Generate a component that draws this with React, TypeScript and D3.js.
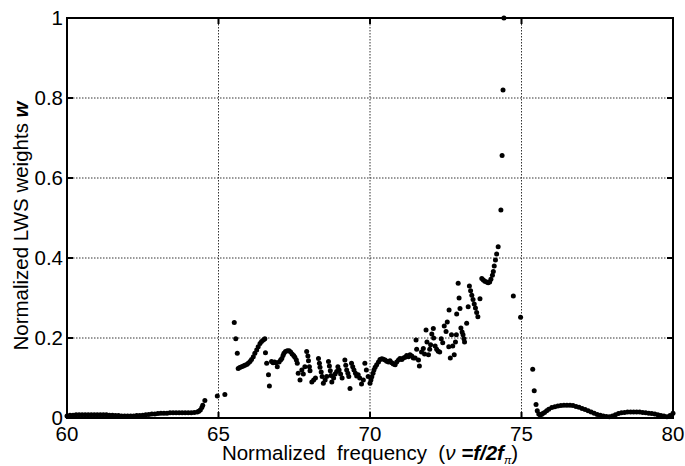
import React from "react";
import * as d3 from "d3";

// ---- data ----
const lowFreq = [60.0,60.1,60.2,60.3,60.4,60.5,60.6,60.7,60.8,60.9,61.0,61.1,61.2,61.3,61.4,61.5,61.6,61.7,61.8,61.9,62.0,62.1,62.2,62.3,62.4,62.5,62.6,62.7,62.8,62.9,63.0,63.1,63.2,63.3,63.4,63.5,63.6,63.7,63.8,63.9,64.0,64.1,64.2,64.3,64.35,64.4,64.45,64.48,64.55,64.96,65.21];
const lowW = [0.005,0.007,0.007,0.008,0.008,0.008,0.008,0.008,0.008,0.008,0.008,0.008,0.008,0.008,0.007,0.007,0.006,0.006,0.005,0.005,0.005,0.005,0.005,0.006,0.006,0.007,0.008,0.009,0.010,0.010,0.011,0.012,0.012,0.012,0.013,0.013,0.013,0.013,0.013,0.013,0.013,0.013,0.014,0.015,0.017,0.020,0.026,0.032,0.044,0.055,0.059];

const riseFreq = [65.52,65.57,65.62,65.65,65.70,65.76,65.82,65.87,65.93,65.98,66.04,66.09,66.15,66.20,66.26,66.31,66.37,66.42,66.48,66.53,66.55,66.59,66.65,66.68,66.75,66.80,66.85,66.90,66.94,67.00,67.05,67.09,67.13,67.16,67.21,67.27,67.33,67.38,67.43,67.48,67.52,67.57,67.60,67.63];
const riseW = [0.239,0.198,0.162,0.124,0.126,0.128,0.130,0.132,0.134,0.137,0.141,0.146,0.153,0.162,0.170,0.178,0.186,0.191,0.195,0.198,0.163,0.137,0.108,0.080,0.141,0.138,0.140,0.138,0.128,0.140,0.145,0.149,0.156,0.162,0.166,0.168,0.168,0.165,0.160,0.156,0.152,0.145,0.137,0.112];

const bandFreq = [67.69,67.75,67.80,67.85,67.91,67.95,67.97,68.00,68.02,68.08,68.14,68.20,68.30,68.33,68.35,68.39,68.42,68.46,68.52,68.57,68.63,68.66,68.69,68.71,68.74,68.80,68.85,68.90,68.94,68.98,69.03,69.08,69.17,69.20,69.23,69.27,69.30,69.34,69.39,69.43,69.47,69.52,69.56,69.61,69.66,69.72,69.78,69.83,69.88,69.94,70.00,70.03,70.06,70.10,70.13,70.17,70.22];
const bandW = [0.095,0.120,0.110,0.128,0.166,0.155,0.143,0.128,0.118,0.090,0.095,0.100,0.149,0.137,0.127,0.115,0.104,0.087,0.095,0.104,0.141,0.130,0.118,0.106,0.090,0.100,0.110,0.116,0.128,0.120,0.110,0.100,0.145,0.132,0.120,0.112,0.104,0.074,0.137,0.128,0.120,0.112,0.105,0.108,0.100,0.085,0.095,0.137,0.120,0.104,0.087,0.095,0.103,0.112,0.120,0.127,0.133];

const climbFreq = [70.28,70.33,70.39,70.44,70.50,70.55,70.61,70.66,70.72,70.77,70.83,70.88,70.94,70.99,71.05,71.10,71.16,71.21,71.27,71.32,71.38,71.43,71.49,71.52,71.54,71.60,71.63,71.70,71.76,71.80,71.85,71.88,71.93,71.97,72.00,72.04,72.09,72.10,72.15,72.20,72.25,72.30,72.35,72.40,72.45,72.51,72.55,72.60,72.61,72.65,72.69,72.73,72.78,72.82,72.85,72.86,72.91,72.94,72.97,73.00,73.04,73.07,73.10,73.12,73.19,73.24,73.28,73.32,73.36,73.40,73.44,73.48,73.52,73.56,73.63];
const climbW = [0.140,0.146,0.148,0.147,0.145,0.142,0.140,0.143,0.138,0.135,0.133,0.140,0.145,0.149,0.146,0.150,0.152,0.156,0.153,0.158,0.155,0.150,0.150,0.195,0.172,0.145,0.130,0.165,0.174,0.160,0.220,0.190,0.158,0.172,0.183,0.210,0.224,0.200,0.180,0.172,0.167,0.165,0.198,0.188,0.230,0.216,0.240,0.178,0.270,0.150,0.208,0.180,0.158,0.190,0.208,0.260,0.337,0.300,0.274,0.225,0.215,0.208,0.198,0.190,0.237,0.278,0.330,0.318,0.307,0.296,0.285,0.275,0.264,0.253,0.298];

const peakFreq = [73.69,73.74,73.79,73.85,73.90,73.95,73.99,74.04,74.07,74.10,74.14,74.18,74.23,74.32,74.36,74.39,74.42,74.73,74.97];
const peakW = [0.349,0.345,0.342,0.340,0.338,0.340,0.347,0.357,0.366,0.380,0.395,0.410,0.428,0.520,0.656,0.820,1.000,0.305,0.252];

const tailFreq = [75.37,75.42,75.48,75.52,75.57,75.61,75.66,75.70,75.76,75.83,75.9,76.0,76.1,76.2,76.3,76.4,76.5,76.6,76.7,76.8,76.9,77.0,77.1,77.2,77.3,77.4,77.5,77.6,77.7,77.8,77.9,78.0,78.1,78.2,78.3,78.4,78.5,78.6,78.7,78.8,78.9,79.0,79.1,79.2,79.3,79.4,79.5,79.6,79.7,79.8,79.9,80.0];
const tailW = [0.122,0.068,0.034,0.018,0.010,0.008,0.009,0.011,0.014,0.018,0.022,0.026,0.028,0.030,0.031,0.032,0.032,0.032,0.031,0.029,0.027,0.024,0.021,0.018,0.015,0.012,0.009,0.007,0.005,0.004,0.003,0.005,0.008,0.011,0.013,0.014,0.015,0.015,0.015,0.015,0.015,0.014,0.013,0.012,0.011,0.010,0.008,0.006,0.005,0.003,0.006,0.012];

const xTicks = [60, 65, 70, 75, 80];
const yTicks = [0, 0.2, 0.4, 0.6, 0.8, 1];
const xGrid = [65, 70, 75];
const yGrid = [0.2, 0.4, 0.6, 0.8];

const segments: [number[], number[]][] = [
  [lowFreq, lowW], [riseFreq, riseW], [bandFreq, bandW],
  [climbFreq, climbW], [peakFreq, peakW], [tailFreq, tailW],
];

export default function App() {
  const W = 685, H = 466;
  const left = 67, right = 673, top = 18, bottom = 418;
  const x = d3.scaleLinear().domain([60, 80]).range([left, right]);
  const y = d3.scaleLinear().domain([0, 1]).range([bottom, top]);
  const font = "'Liberation Sans', Arial, Helvetica, sans-serif";
  const points: { f: number; w: number }[] = [];
  segments.forEach(([fs, ws]) => fs.forEach((f, i) => points.push({ f, w: ws[i] })));
  const tickLen = 6;

  return (
    <svg width={W} height={H} style={{ position: "absolute", left: 0, top: 0, background: "#fff" }} fontFamily={font}>
      <rect x={0} y={0} width={W} height={H} fill="#fff" />
      {/* grid */}
      {xGrid.map((v) => (
        <line key={"gx" + v} x1={x(v)} x2={x(v)} y1={top} y2={bottom} stroke="#333" strokeWidth={1} strokeDasharray="1.5,1.5" />
      ))}
      {yGrid.map((v) => (
        <line key={"gy" + v} x1={left} x2={right} y1={y(v)} y2={y(v)} stroke="#333" strokeWidth={1} strokeDasharray="1.5,1.5" />
      ))}
      {/* data */}
      {points.map((p, i) => (
        <circle key={i} cx={x(p.f)} cy={y(p.w)} r={2.5} fill="#000" />
      ))}
      {/* frame */}
      <rect x={left} y={top} width={right - left} height={bottom - top} fill="none" stroke="#000" strokeWidth={2} />
      {/* ticks */}
      {xTicks.map((v) => (
        <g key={"tx" + v}>
          <line x1={x(v)} x2={x(v)} y1={bottom} y2={bottom - tickLen} stroke="#000" strokeWidth={2} />
          <line x1={x(v)} x2={x(v)} y1={top} y2={top + tickLen} stroke="#000" strokeWidth={2} />
          <text x={x(v)} y={441} textAnchor="middle" fontSize={20.5} fill="#000">{v}</text>
        </g>
      ))}
      {yTicks.map((v) => (
        <g key={"ty" + v}>
          <line x1={left} x2={left + tickLen} y1={y(v)} y2={y(v)} stroke="#000" strokeWidth={2} />
          <line x1={right} x2={right - tickLen} y1={y(v)} y2={y(v)} stroke="#000" strokeWidth={2} />
          <text x={63} y={y(v)} dy="0.36em" textAnchor="end" fontSize={20.5} fill="#000">{String(v)}</text>
        </g>
      ))}
      {/* axis titles */}
      <text x={370} y={460} textAnchor="middle" fontSize={20.5} fill="#000" style={{ whiteSpace: "pre" }}>
        {"Normalized  frequency  ("}
        <tspan fontStyle="italic">ν</tspan>
        {" "}
        <tspan fontStyle="italic" fontWeight="bold">=f/2f</tspan>
        <tspan fontStyle="italic" fontSize={11} dy={4}>π</tspan>
        <tspan dy={-4}>)</tspan>
      </text>
      <text transform="translate(28,226) rotate(-90)" textAnchor="middle" fontSize={20.5} fill="#000">
        {"Normalized LWS weights "}
        <tspan fontStyle="italic" fontWeight="bold">w</tspan>
      </text>
    </svg>
  );
}
